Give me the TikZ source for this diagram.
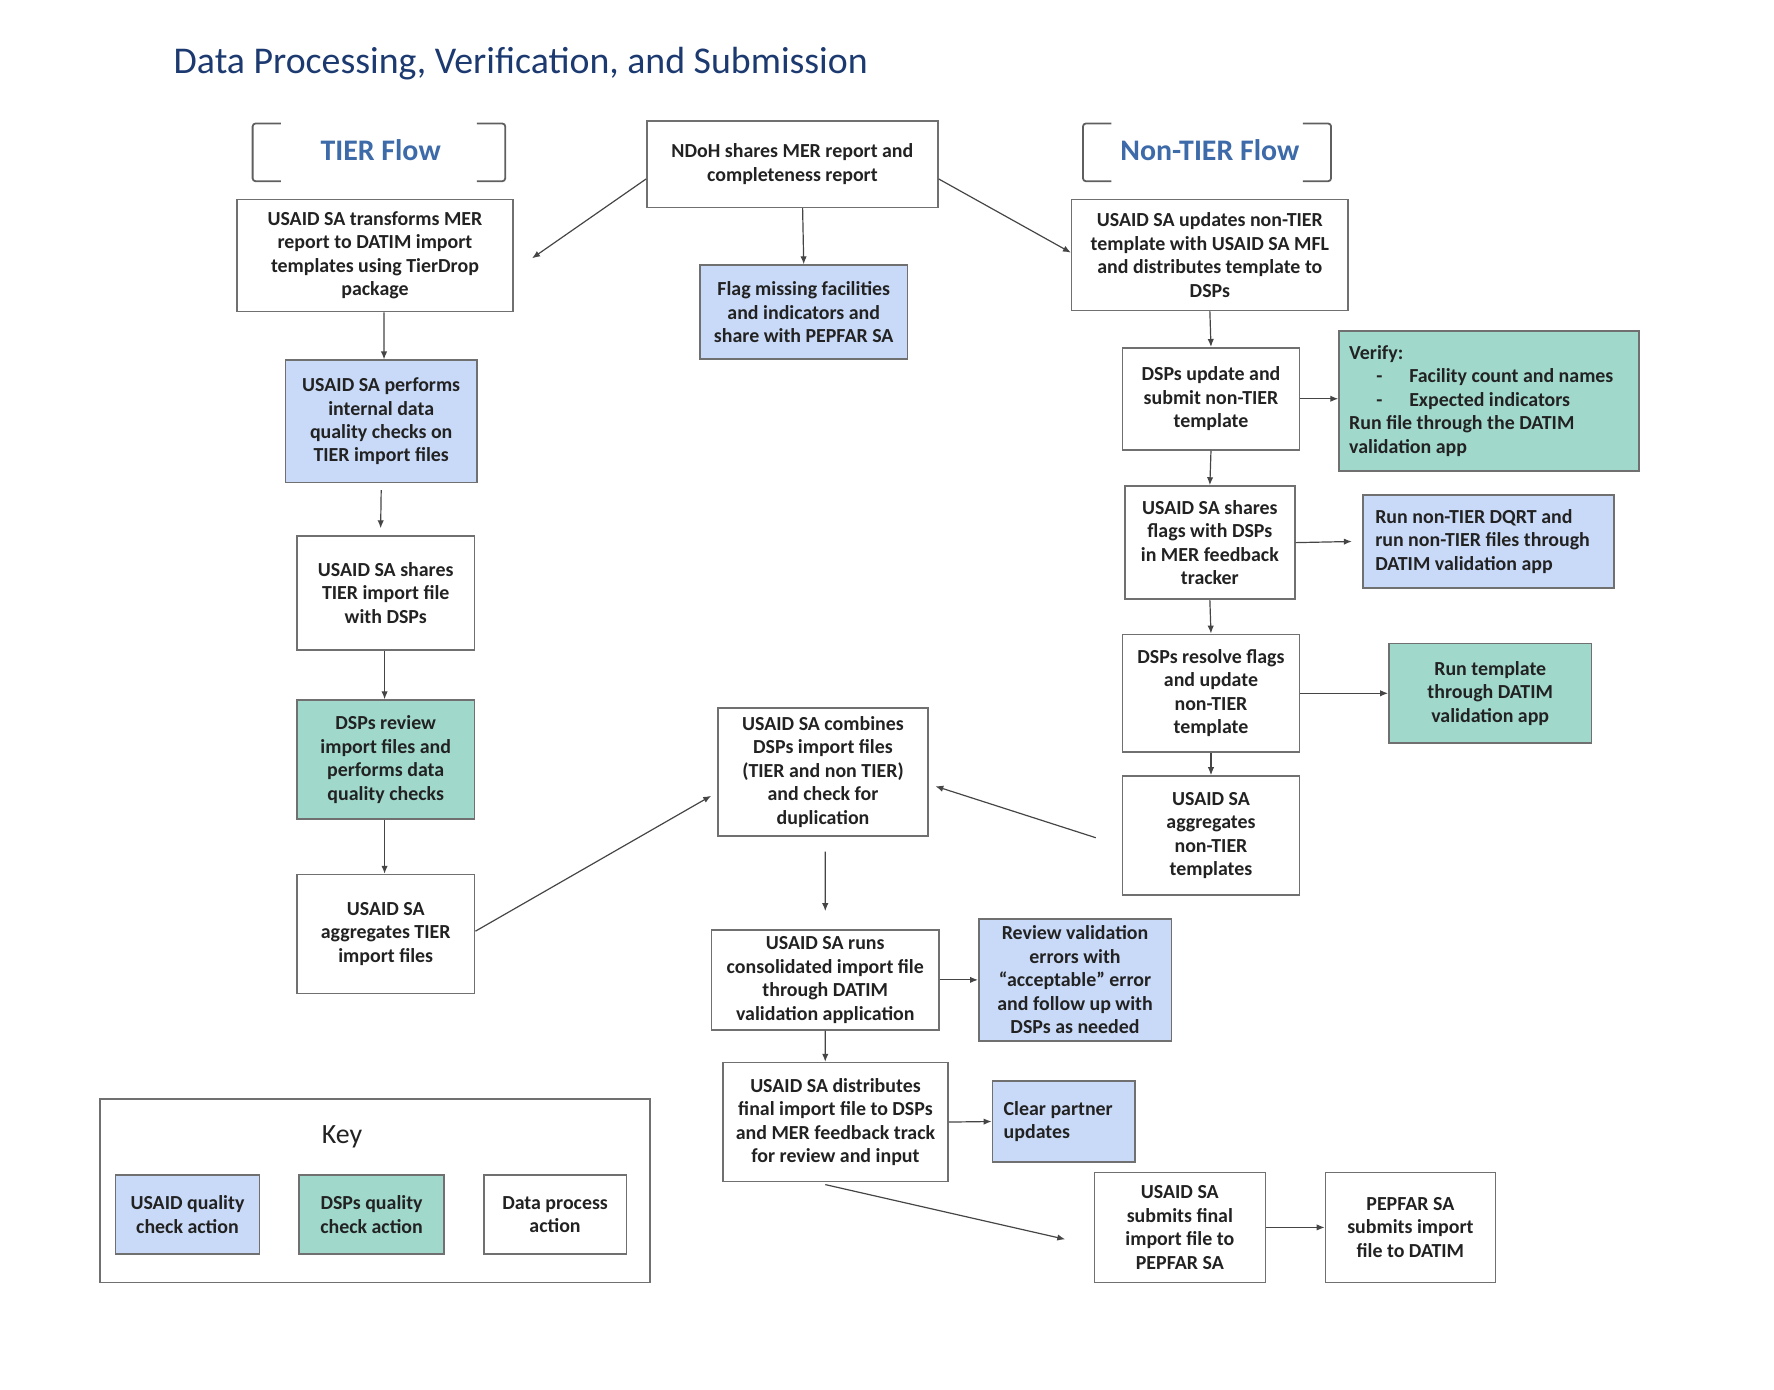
\documentclass[tikz,border=0pt]{standalone}
\usepackage{fontspec}
\setmainfont{Carlito}
\usetikzlibrary{arrows.meta}
\definecolor{qblue}{HTML}{C9DAF8}
\definecolor{qgreen}{HTML}{A0D9CB}
\definecolor{bord}{HTML}{707070}
\definecolor{arrc}{HTML}{454545}
\definecolor{txt}{HTML}{222222}
\definecolor{navy}{HTML}{1C3A70}
\definecolor{flowblue}{HTML}{3D6AA8}
\tikzset{
  box/.style={draw=bord, line width=0.8pt, rectangle, inner sep=0pt, align=center,
    text=txt, font=\fontsize{10}{11.8}\selectfont\bfseries},
  wbox/.style={box, fill=white},
  bbox/.style={box, fill=qblue},
  gbox/.style={box, fill=qgreen},
  arr/.style={draw=arrc, line width=0.6pt, -{Latex[length=4pt,width=3.2pt]}},
  brk/.style={draw=bord!85!black, line width=0.9pt, rounded corners=1.5pt},
  flowlbl/.style={text=flowblue, font=\fontsize{15}{18}\selectfont\bfseries, inner sep=0pt, anchor=base},
}
\begin{document}
\begin{tikzpicture}[x=0.02cm,y=-0.02cm]
\useasboundingbox (0,0) rectangle (1566,1227);
% title
\node[anchor=base west, inner sep=0pt, text=navy, font=\fontsize{19}{22}\selectfont] (title) at (153,65) {Data Processing, Verification, and Submission};
% flow labels with brackets
\node[flowlbl] (tierlbl) at (336,142) {TIER Flow};
\draw[brk] (248,109) -- (223,109) -- (223,160) -- (248,160);
\draw[brk] (421,109) -- (446,109) -- (446,160) -- (421,160);
\node[flowlbl] (ntierlbl) at (1068,142) {Non-TIER Flow};
\draw[brk] (981,109) -- (956,109) -- (956,160) -- (981,160);
\draw[brk] (1150,109) -- (1175,109) -- (1175,160) -- (1150,160);
% nodes
\node[wbox, minimum width=5.14cm, minimum height=1.52cm] (ndoh) at (699.5,145) {NDoH shares MER report and\\completeness report};
\node[wbox, minimum width=4.88cm, minimum height=1.98cm] (trans) at (331,225.5) {USAID SA transforms MER\\report to DATIM import\\templates using TierDrop\\package};
\node[bbox, minimum width=3.66cm, minimum height=1.66cm] (flag) at (709.5,275.5) {Flag missing facilities\\and indicators and\\share with PEPFAR SA};
\node[wbox, minimum width=4.88cm, minimum height=1.96cm] (upd) at (1068,225) {USAID SA updates non-TIER\\template with USAID SA MFL\\and distributes template to\\DSPs};
\node[bbox, minimum width=3.38cm, minimum height=2.16cm] (perf) at (336.5,372) {USAID SA performs\\internal data\\quality checks on\\TIER import files};
\node[wbox, minimum width=3.14cm, minimum height=2.02cm] (shtier) at (340.5,523.5) {USAID SA shares\\TIER import file\\with DSPs};
\node[gbox, minimum width=3.14cm, minimum height=2.10cm] (rev) at (340.5,670.5) {DSPs review\\import files and\\performs data\\quality checks};
\node[wbox, minimum width=3.14cm, minimum height=2.10cm] (aggt) at (340.5,824.5) {USAID SA\\aggregates TIER\\import files};
\node[wbox, minimum width=3.12cm, minimum height=1.80cm] (dspupd) at (1069,352) {DSPs update and\\submit non-TIER\\template};
\node[gbox, minimum width=5.30cm, minimum height=2.48cm, text width=4.94cm, align=flush left, inner xsep=0.18cm] (verify) at (1314.5,354) {Verify:\\\makebox[1.06cm][l]{\hspace*{0.48cm}-}Facility count and names\\\makebox[1.06cm][l]{\hspace*{0.48cm}-}Expected indicators\\Run file through the DATIM\\validation app};
\node[wbox, minimum width=3.00cm, minimum height=2.00cm] (shflag) at (1068,479) {USAID SA shares\\flags with DSPs\\in MER feedback\\tracker};
\node[bbox, minimum width=4.44cm, minimum height=1.64cm, text width=4.00cm, align=flush left, inner xsep=0.22cm] (dqrt) at (1314,478) {Run non-TIER DQRT and\\run non-TIER files through\\DATIM validation app};
\node[wbox, minimum width=3.12cm, minimum height=2.08cm] (resolve) at (1069,612) {DSPs resolve flags\\and update\\non-TIER\\template};
\node[gbox, minimum width=3.58cm, minimum height=1.76cm] (runtpl) at (1315.5,612) {Run template\\through DATIM\\validation app};
\node[wbox, minimum width=3.12cm, minimum height=2.10cm] (aggn) at (1069,737.5) {USAID SA\\aggregates\\non-TIER\\templates};
\node[wbox, minimum width=3.70cm, minimum height=2.26cm] (comb) at (726.5,681.5) {USAID SA combines\\DSPs import files\\(TIER and non TIER)\\and check for\\duplication};
\node[wbox, minimum width=4.02cm, minimum height=1.76cm] (runs) at (728.5,865) {USAID SA runs\\consolidated import file\\through DATIM\\validation application};
\node[bbox, minimum width=3.40cm, minimum height=2.16cm] (revval) at (949,865) {Review validation\\errors with\\“acceptable” error\\and follow up with\\DSPs as needed};
\node[wbox, minimum width=3.98cm, minimum height=2.10cm] (dist) at (737.5,990.5) {USAID SA distributes\\final import file to DSPs\\and MER feedback track\\for review and input};
\node[bbox, minimum width=2.52cm, minimum height=1.44cm, text width=2.12cm, align=flush left, inner xsep=0.2cm] (clear) at (939,990) {Clear partner\\updates};
\node[wbox, minimum width=3.02cm, minimum height=1.94cm] (subm) at (1041.5,1083.5) {USAID SA\\submits final\\import file to\\PEPFAR SA};
\node[wbox, minimum width=3.00cm, minimum height=1.94cm] (pepfar) at (1245,1083.5) {PEPFAR SA\\submits import\\file to DATIM};
% key
\node[wbox, minimum width=9.72cm, minimum height=3.24cm] (key) at (331,1051) {};
\node[anchor=base, inner sep=0pt, text=txt, font=\fontsize{14}{16}\selectfont] (keylbl) at (302,1009) {Key};
\node[bbox, minimum width=2.54cm, minimum height=1.40cm] (k1) at (165.5,1072) {USAID quality\\check action};
\node[gbox, minimum width=2.56cm, minimum height=1.40cm] (k2) at (328,1072) {DSPs quality\\check action};
\node[wbox, minimum width=2.52cm, minimum height=1.40cm] (k3) at (490,1072) {Data process\\action};
% free ends
\coordinate (a1e) at ([shift={(0.32cm,-0.05cm)}]trans.east);
\coordinate (a8e) at ([shift={(-0.11cm,-0.42cm)}]comb.west);
% connectors
\draw[arr] ([yshift=-0.26cm]ndoh.west) -- (a1e);
\draw[arr] ([xshift=0.18cm]ndoh.south) -- (flag.north);
\draw[arr] ([yshift=-0.26cm]ndoh.east) -- ([yshift=0.04cm]upd.west);
\draw[arr] ([xshift=0.16cm]trans.south) -- ([xshift=0.05cm]perf.north);
\draw[arr] ([yshift=-0.12cm]perf.south) -- ([shift={(-0.09cm,0.12cm)}]shtier.north);
\draw[arr] ([xshift=-0.02cm]shtier.south) -- ([xshift=-0.02cm]rev.north);
\draw[arr] ([xshift=-0.02cm]rev.south) -- ([xshift=-0.02cm]aggt.north);
\draw[arr] ([yshift=0.05cm]aggt.east) -- (a8e);
\draw[arr] ([shift={(-0.46cm,-0.04cm)}]aggn.west) -- ([shift={(0.12cm,-0.25cm)}]comb.east);
\draw[arr] ([shift={(0.04cm,-0.26cm)}]comb.south) -- ([yshift=0.32cm]runs.north);
\draw[arr] (runs.south) -- ([xshift=-0.18cm]dist.north);
\draw[arr] (runs.east) -- (revval.west);
\draw[arr] (dist.east) -- (clear.west);
\draw[arr] ([shift={(-0.18cm,-0.04cm)}]dist.south) -- ([shift={(-0.5cm,-0.21cm)}]subm.west);
\draw[arr] (subm.east) -- (pepfar.west);
\draw[arr] (upd.south) -- (dspupd.north);
\draw[arr] (dspupd.east) -- (dspupd.east -| verify.west);
\draw[arr] (dspupd.south) -- (shflag.north);
\draw[arr] (shflag.east) -- ([xshift=-0.18cm]dqrt.west);
\draw[arr] (shflag.south) -- (resolve.north);
\draw[arr] (resolve.east) -- (runtpl.west);
\draw[arr] (resolve.south) -- (aggn.north);
\end{tikzpicture}
\end{document}
